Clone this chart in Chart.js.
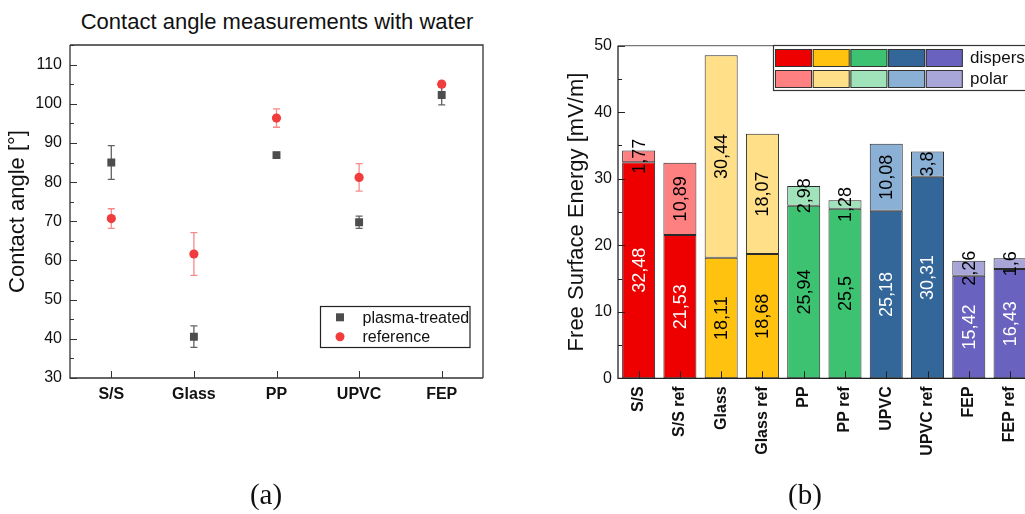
<!DOCTYPE html>
<html>
<head>
<meta charset="utf-8">
<script src="https://cdn.jsdelivr.net/npm/chart.js@4.4.0/dist/chart.umd.min.js"></script>
<style>
  html, body { margin: 0; padding: 0; width: 1025px; height: 514px; overflow: hidden; background: #fff; }
  #izquierda { position: absolute; left: 0; top: 0; }
  #derecha { position: absolute; left: 554px; top: 0; }
  .titulo { position: absolute; left: 0; top: 9px; width: 554px; text-align: center;
            font-family: "Liberation Sans", Arial, sans-serif; font-size: 22px; color: #111; }
  .sub { position: absolute; top: 474px; width: 100px; height: 40px; line-height: 40px; text-align: center;
         font-family: "Liberation Serif", "DejaVu Serif", serif; font-size: 29px; color: #111; }
</style>
</head>
<body>
<div class="titulo">Contact angle measurements with water</div>
<canvas id="izquierda" width="554" height="514"></canvas>
<canvas id="derecha" width="490" height="514"></canvas>
<div class="sub" style="left:216px">(a)</div>
<div class="sub" style="left:755px">(b)</div>
<script>
//*****************************************************/
//************************ DATOS **********************/
//*****************************************************/

const materiales = ["S/S", "Glass", "PP", "UPVC", "FEP"];
const plasma = [85.0, 40.55, 86.9, 69.75, 102.25];
const plasmaError = [4.3, 2.75, 0.7, 1.55, 2.55];
const referencia = [70.7, 61.65, 96.35, 81.2, 105.0];
const referenciaError = [2.5, 5.45, 2.35, 3.5, 0.8];

const muestras = ["S/S", "S/S ref", "Glass", "Glass ref", "PP", "PP ref", "UPVC", "UPVC ref", "FEP", "FEP ref"];
const dispersiva = [32.48, 21.53, 18.11, 18.68, 25.94, 25.5, 25.18, 30.31, 15.42, 16.43];
const polar = [1.77, 10.89, 30.44, 18.07, 2.98, 1.28, 10.08, 3.8, 2.26, 1.6];

//*****************************************************/
//*********************** ESTILOS *********************/
//*****************************************************/

const fuente = "'Liberation Sans', Arial, sans-serif";
const coloresFuertes = ["#ee0000", "#ffc20f", "#3cc271", "#336699", "#6a62bf"];
const coloresSuaves = ["#ff8080", "#ffdf88", "#a0e2ba", "#8ab0d6", "#a8a5d8"];
const textoFuerte = ["#fff", "#000", "#000", "#fff", "#fff"];

// cada par (muestra / ref) usa el mismo color
const porPar = (arr) => muestras.map((m, i) => arr[Math.floor(i / 2)]);

//*****************************************************/
//*********************** PLUGINS *********************/
//*****************************************************/

// marcas hacia adentro + marco del grafico
const marcas = {
  id: "marcas",
  afterDraw(chart, args, op) {
    const { ctx, chartArea: a, scales: { x, y } } = chart;
    ctx.save();
    ctx.lineWidth = 1;
    ctx.strokeStyle = op.color;
    ctx.beginPath();
    for (let v = y.min; v <= y.max + 1e-6; v += op.menor) {
      const py = Math.round(y.getPixelForValue(v)) + 0.5;
      const largo = Math.abs(v % op.mayor) < 1e-6 ? 7 : 4;
      ctx.moveTo(a.left, py);
      ctx.lineTo(a.left + largo, py);
    }
    x.ticks.forEach((t, i) => {
      const px = Math.round(x.getPixelForTick(i)) + 0.5;
      ctx.moveTo(px, a.bottom);
      ctx.lineTo(px, a.bottom - 7);
    });
    ctx.stroke();
    // marco
    ctx.lineWidth = 1.3;
    ctx.strokeStyle = op.marco;
    ctx.beginPath();
    ctx.moveTo(a.left, a.top);
    ctx.lineTo(a.right, a.top);
    ctx.lineTo(a.right, a.bottom);
    ctx.stroke();
    ctx.strokeStyle = op.color;
    ctx.beginPath();
    ctx.moveTo(a.left, a.top);
    ctx.lineTo(a.left, a.bottom);
    ctx.lineTo(a.right, a.bottom);
    ctx.stroke();
    ctx.restore();
  },
};

// barras de error (antes de los puntos)
const barrasError = {
  id: "barrasError",
  beforeDatasetsDraw(chart) {
    const { ctx, scales: { y } } = chart;
    chart.data.datasets.forEach((ds, i) => {
      const meta = chart.getDatasetMeta(i);
      ctx.save();
      ctx.strokeStyle = ds.colorError;
      ctx.lineWidth = 1.3;
      meta.data.forEach((p, j) => {
        const v = ds.data[j];
        const e = ds.errores[j];
        const y1 = y.getPixelForValue(v + e);
        const y2 = y.getPixelForValue(v - e);
        ctx.beginPath();
        ctx.moveTo(p.x, y1);
        ctx.lineTo(p.x, y2);
        ctx.moveTo(p.x - 3.5, y1);
        ctx.lineTo(p.x + 3.5, y1);
        ctx.moveTo(p.x - 3.5, y2);
        ctx.lineTo(p.x + 3.5, y2);
        ctx.stroke();
      });
      ctx.restore();
    });
  },
};

// leyenda dentro del area (grafico a)
const leyendaA = {
  id: "leyendaA",
  afterDraw(chart) {
    const { ctx } = chart;
    ctx.save();
    ctx.fillStyle = "#fff";
    ctx.fillRect(320.5, 306.5, 149.5, 41);
    ctx.strokeStyle = "#222";
    ctx.lineWidth = 1.2;
    ctx.strokeRect(320.5, 306.5, 149.5, 41);
    ctx.font = "16px " + fuente;
    ctx.textBaseline = "middle";
    chart.data.datasets.forEach((ds, i) => {
      const cy = 317.3 + i * 19.4;
      ctx.fillStyle = ds.backgroundColor;
      if (ds.pointStyle === "rect") ctx.fillRect(336, cy - 4, 8, 8);
      else {
        ctx.beginPath();
        ctx.arc(340, cy, 4.5, 0, Math.PI * 2);
        ctx.fill();
      }
      ctx.fillStyle = "#111";
      ctx.fillText(ds.label, 362.5, cy + 1);
    });
    ctx.restore();
  },
};

// valores dentro de las barras
const etiquetasBarras = {
  id: "etiquetasBarras",
  afterDatasetsDraw(chart) {
    const { ctx } = chart;
    chart.data.datasets.forEach((ds, i) => {
      const meta = chart.getDatasetMeta(i);
      meta.data.forEach((bar, j) => {
        ctx.save();
        ctx.translate(bar.x, (bar.y + bar.base) / 2);
        ctx.rotate(-Math.PI / 2);
        ctx.fillStyle = ds.colorTexto[j];
        ctx.font = "18px " + fuente;
        ctx.textAlign = "center";
        ctx.textBaseline = "middle";
        ctx.fillText(String(ds.data[j]).replace(".", ","), 0, 1);
        ctx.restore();
      });
    });
  },
};

// leyenda de colores (grafico b)
const leyendaB = {
  id: "leyendaB",
  afterDraw(chart) {
    const { ctx } = chart;
    ctx.save();
    ctx.fillStyle = "#fff";
    ctx.fillRect(219.5, 45.5, 300, 45);
    ctx.strokeStyle = "#333";
    ctx.lineWidth = 1.2;
    ctx.strokeRect(219.5, 45.5, 300, 45);
    const filas = [coloresFuertes, coloresSuaves];
    const nombres = ["dispersive", "polar"];
    filas.forEach((fila, f) => {
      const y0 = 49 + f * 21;
      fila.forEach((c, k) => {
        const x0 = 221 + k * 37.7;
        ctx.fillStyle = c;
        ctx.fillRect(x0, y0, 37, 18);
        ctx.strokeStyle = "#333";
        ctx.lineWidth = 1;
        ctx.strokeRect(x0 + 0.5, y0 + 0.5, 36, 17);
      });
      ctx.fillStyle = "#111";
      ctx.font = "17px " + fuente;
      ctx.textBaseline = "middle";
      ctx.fillText(nombres[f], 416, y0 + 9.5);
    });
    ctx.restore();
  },
};

//*****************************************************/
//**************** GRAFICO (a): ANGULOS ***************/
//*****************************************************/

new Chart(document.getElementById("izquierda"), {
  type: "line",
  data: {
    labels: materiales,
    datasets: [
      {
        label: "plasma-treated",
        data: plasma,
        errores: plasmaError,
        colorError: "rgba(70,70,70,0.85)",
        showLine: false,
        pointStyle: "rect",
        pointRadius: 5.6,
        pointBorderWidth: 0,
        backgroundColor: "#4d4d4d",
        borderColor: "#4d4d4d",
      },
      {
        label: "reference",
        data: referencia,
        errores: referenciaError,
        colorError: "rgba(240,60,60,0.6)",
        showLine: false,
        pointStyle: "circle",
        pointRadius: 4.6,
        pointBorderWidth: 0,
        backgroundColor: "#f03c3c",
        borderColor: "#f03c3c",
      },
    ],
  },
  options: {
    responsive: false,
    animation: false,
    devicePixelRatio: 1,
    layout: { padding: { top: 45, right: 71, left: 0, bottom: 0 } },
    plugins: {
      legend: { display: false },
      tooltip: { enabled: false },
      marcas: { color: "#333", marco: "#333", mayor: 10, menor: 5 },
    },
    scales: {
      x: {
        offset: true,
        grid: { display: false, drawTicks: false },
        border: { display: false },
        ticks: { color: "#111", font: { family: fuente, size: 16, weight: "bold" }, padding: 7 },
        afterFit: (s) => { s.height = 136; },
      },
      y: {
        min: 30,
        max: 115,
        grid: { display: false, drawTicks: false },
        border: { display: false },
        ticks: { stepSize: 10, includeBounds: false, color: "#111", font: { family: fuente, size: 16 }, padding: 8 },
        title: { display: true, text: "Contact angle [°]", color: "#111", font: { family: fuente, size: 22 }, padding: { top: 5 } },
        afterFit: (s) => { s.width = 70; },
      },
    },
  },
  plugins: [barrasError, marcas, leyendaA],
});

//*****************************************************/
//************ GRAFICO (b): ENERGIA SUPERFICIAL *******/
//*****************************************************/

new Chart(document.getElementById("derecha"), {
  type: "bar",
  data: {
    labels: muestras,
    datasets: [
      {
        label: "dispersive",
        data: dispersiva,
        backgroundColor: porPar(coloresFuertes),
        colorTexto: porPar(textoFuerte),
        borderColor: "#2a2a2a",
        borderWidth: 1,
        borderSkipped: false,
        barPercentage: 0.8,
        categoryPercentage: 1.0,
      },
      {
        label: "polar",
        data: polar,
        backgroundColor: porPar(coloresSuaves),
        colorTexto: muestras.map(() => "#000"),
        borderColor: "#2a2a2a",
        borderWidth: 1,
        borderSkipped: false,
        barPercentage: 0.8,
        categoryPercentage: 1.0,
      },
    ],
  },
  options: {
    responsive: false,
    animation: false,
    devicePixelRatio: 1,
    layout: { padding: { top: 45.7, right: 13.3, left: 0, bottom: 0 } },
    plugins: {
      legend: { display: false },
      tooltip: { enabled: false },
      marcas: { color: "#222", marco: "#777", mayor: 10, menor: 5 },
    },
    scales: {
      x: {
        stacked: true,
        offset: true,
        grid: { display: false, drawTicks: false },
        border: { display: false },
        ticks: { color: "#111", font: { family: fuente, size: 16, weight: "bold" }, padding: 8, minRotation: 90, maxRotation: 90 },
        afterFit: (s) => { s.height = 135.7; },
      },
      y: {
        stacked: true,
        min: 0,
        max: 50,
        grid: { display: false, drawTicks: false },
        border: { display: false },
        ticks: { stepSize: 10, color: "#111", font: { family: fuente, size: 16 }, padding: 6 },
        title: { display: true, text: "Free Surface Energy [mV/m]", color: "#111", font: { family: fuente, size: 22 }, padding: { top: 10 } },
        afterFit: (s) => { s.width = 64; },
      },
    },
  },
  plugins: [etiquetasBarras, marcas, leyendaB],
});
</script>
</body>
</html>
